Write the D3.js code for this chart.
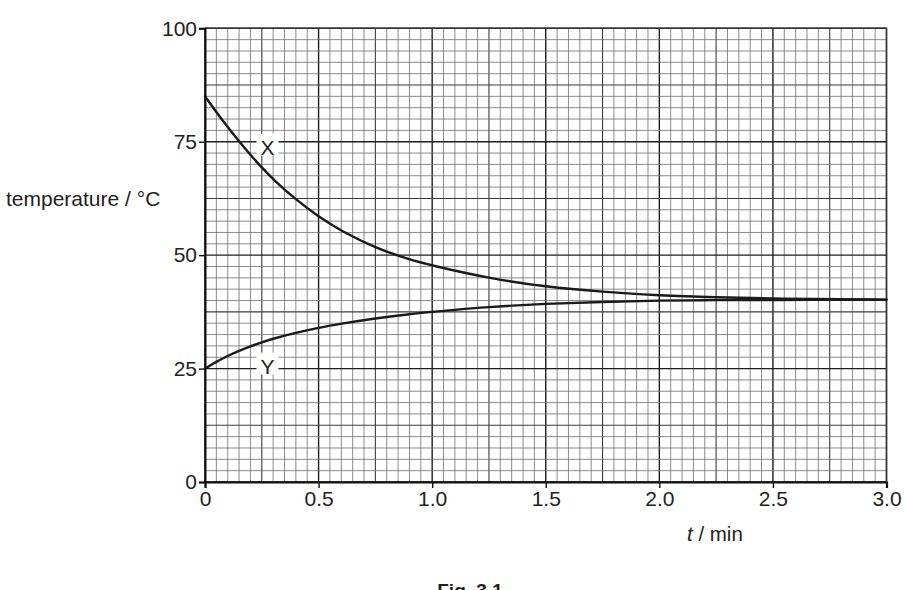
<!DOCTYPE html>
<html>
<head>
<meta charset="utf-8">
<script src="https://cdn.jsdelivr.net/npm/d3@7"></script>
<style>
  html, body { margin: 0; padding: 0; background: #fff; }
  svg { display: block; font-family: "Liberation Sans", Arial, sans-serif; }
</style>
</head>
<body>
<svg id="chart" width="906" height="590"></svg>
<script>
// ---- data ----
const times   = [0, 0.05, 0.1, 0.15, 0.2, 0.25, 0.3, 0.4, 0.5, 0.6, 0.75, 0.9, 1.0, 1.25, 1.5, 1.75, 2.0, 2.25, 2.5, 3.0];
const seriesX = [85, 81.5, 78.2, 75.1, 72.1, 69.3, 66.7, 62.2, 58.5, 55.3, 51.6, 49.0, 47.7, 44.9, 43.0, 41.9, 41.1, 40.7, 40.4, 40.2];
const seriesY = [25, 26.5, 27.8, 28.9, 29.9, 30.8, 31.6, 32.9, 34.0, 34.9, 36.1, 37.0, 37.5, 38.6, 39.3, 39.7, 40.0, 40.1, 40.1, 40.2];
const xTicks = [0, 0.5, 1.0, 1.5, 2.0, 2.5, 3.0];
const xTickLabels = ["0", "0.5", "1.0", "1.5", "2.0", "2.5", "3.0"];
const yTicks = [0, 25, 50, 75, 100];
const curveLabels = ["X", "Y"];
const curveLabelT = [0.275, 0.275];
const curveLabelV = [75, 25];

// ---- layout ----
const svg = d3.select("#chart");
const x = d3.scaleLinear().domain([0, 3]).range([205, 886.5]);
const y = d3.scaleLinear().domain([0, 100]).range([482, 28.3]);

// ---- graph-paper grid ----
const grid = svg.append("g");
const minorX = d3.range(0, 61).map(i => i * 0.05);
const minorY = d3.range(0, 41).map(i => i * 2.5);

function styleFor(i, every5, every10) {
  if (i % every10 === 0) return { c: "#1e1e1e", w: 1.4 };
  if (i % every5 === 0) return { c: "#3c3c3c", w: 1.1 };
  return { c: "#6e6e6e", w: 0.8 };
}

grid.selectAll("line.vx").data(minorX).join("line")
  .attr("class", "vx")
  .attr("x1", d => x(d)).attr("x2", d => x(d))
  .attr("y1", y(0)).attr("y2", y(100))
  .attr("stroke", (d, i) => styleFor(i, 5, 10).c)
  .attr("stroke-width", (d, i) => styleFor(i, 5, 10).w);

grid.selectAll("line.hy").data(minorY).join("line")
  .attr("class", "hy")
  .attr("x1", x(0)).attr("x2", x(3))
  .attr("y1", d => y(d)).attr("y2", d => y(d))
  .attr("stroke", (d, i) => styleFor(i, 5, 10).c)
  .attr("stroke-width", (d, i) => styleFor(i, 5, 10).w);

// border
svg.append("rect")
  .attr("x", x(0)).attr("y", y(100))
  .attr("width", x(3) - x(0)).attr("height", y(0) - y(100))
  .attr("fill", "none").attr("stroke", "#333").attr("stroke-width", 1.4);

// ---- curves ----
const line = d3.line()
  .x((d, i) => x(times[i]))
  .y(d => y(d))
  .curve(d3.curveBasis);

[seriesX, seriesY].forEach(s => {
  svg.append("path")
    .attr("d", line(s))
    .attr("fill", "none")
    .attr("stroke", "#1a1a1a")
    .attr("stroke-width", 2.4)
    .attr("stroke-linecap", "round");
});

// ---- curve labels ----
const labelDy = [13, 5];
curveLabels.forEach((lab, i) => {
  const cx = x(curveLabelT[i]);
  const cy = y(curveLabelV[i]);
  svg.append("rect")
    .attr("x", cx - 11).attr("y", cy - 13 + (labelDy[i] - 8))
    .attr("width", 22).attr("height", 22)
    .attr("fill", "#fff");
  svg.append("text")
    .attr("x", cx).attr("y", cy + labelDy[i])
    .attr("text-anchor", "middle")
    .attr("font-size", 21)
    .attr("fill", "#222")
    .text(lab);
});

// ---- axes ----
const xAxis = svg.append("g")
  .attr("transform", `translate(0,${y(0)})`)
  .call(d3.axisBottom(x).tickValues(xTicks).tickFormat((d, i) => xTickLabels[i]).tickSize(6).tickPadding(3));
xAxis.select(".domain").attr("stroke", "#111").attr("stroke-width", 2.2);
xAxis.selectAll(".tick line").attr("stroke", "#111").attr("stroke-width", 1.4);
xAxis.selectAll(".tick text").attr("font-size", 21).attr("fill", "#222")
  .attr("font-family", "Liberation Sans, Arial, sans-serif");

const yAxis = svg.append("g")
  .attr("transform", `translate(${x(0)},0)`)
  .call(d3.axisLeft(y).tickValues(yTicks).tickSize(6).tickPadding(2));
yAxis.select(".domain").attr("stroke", "#111").attr("stroke-width", 2);
yAxis.selectAll(".tick line").attr("stroke", "#111").attr("stroke-width", 1.4);
yAxis.selectAll(".tick text").attr("font-size", 21).attr("fill", "#222")
  .attr("font-family", "Liberation Sans, Arial, sans-serif");

// ---- axis titles ----
svg.append("text")
  .attr("x", 6).attr("y", 206)
  .attr("font-size", 21).attr("fill", "#222")
  .text("temperature / °C");

const tl = svg.append("text")
  .attr("x", 687).attr("y", 541)
  .attr("font-size", 20.5).attr("fill", "#222");
tl.append("tspan").attr("font-style", "italic").text("t");
tl.append("tspan").text(" / min");

// ---- figure caption ----
svg.append("text")
  .attr("x", 470).attr("y", 597)
  .attr("text-anchor", "middle")
  .attr("font-size", 19).attr("font-weight", "bold").attr("fill", "#222")
  .text("Fig. 3.1");
</script>
</body>
</html>
